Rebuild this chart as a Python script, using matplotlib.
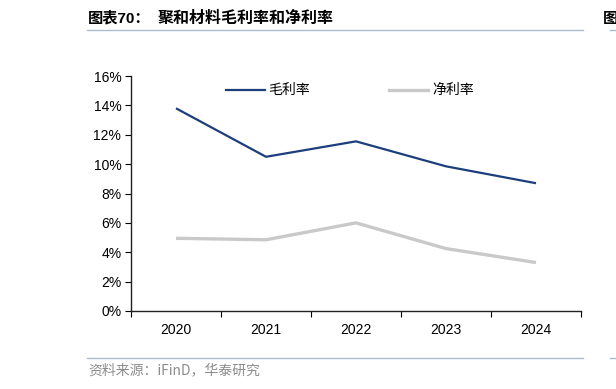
import matplotlib
matplotlib.use("Agg")
import matplotlib.pyplot as plt
from matplotlib.lines import Line2D

plt.rcParams['font.family'] = ['Liberation Sans', 'Noto Sans CJK SC', 'DejaVu Sans']

years = ["2020", "2021", "2022", "2023", "2024"]
gross_margin = [13.8, 10.5, 11.55, 9.85, 8.7]
net_margin = [4.95, 4.85, 6.0, 4.25, 3.3]
y_ticks = [0, 2, 4, 6, 8, 10, 12, 14, 16]

BLUE = "#1C3F7C"
GREY = "#C9C9C9"
RULE = "#A9BCD0"

W, H = 616, 389
fig = plt.figure(figsize=(W / 100, H / 100), dpi=100)

ax = fig.add_axes([131 / W, (H - 311) / H, (581 - 131) / W, (311 - 76) / H])
x = list(range(len(years)))
ax.plot(x, gross_margin, color=BLUE, lw=1.6, solid_capstyle="butt")
ax.plot(x, net_margin, color=GREY, lw=2.4, solid_capstyle="butt")

ax.set_xlim(-0.5, len(years) - 0.5)
ax.set_ylim(0, 16)
ax.set_yticks(y_ticks)
ax.set_yticklabels([f"{v}%" for v in y_ticks], fontsize=10)
ax.set_xticks(x)
ax.set_xticklabels(years, fontsize=10)
ax.tick_params(axis="x", which="major", length=0, pad=9)
ax.set_xticks([i - 0.5 for i in range(len(years) + 1)], minor=True)
ax.tick_params(axis="x", which="minor", length=4, direction="out", width=0.8)
ax.tick_params(axis="y", length=4, direction="out", width=0.8, pad=3)
for s in ["top", "right"]:
    ax.spines[s].set_visible(False)
for s in ["left", "bottom"]:
    ax.spines[s].set_linewidth(1.0)
    ax.spines[s].set_color("#222222")

# legend drawn in figure pixels
def fx(px):
    return px / W

def fy(py):
    return (H - py) / H

cjk = ["Noto Sans CJK SC"]
fig.add_artist(Line2D([fx(226), fx(265)], [fy(90), fy(90)], color=BLUE, lw=1.6))
fig.text(fx(268), fy(90), "毛利率", fontsize=10, va="center", ha="left", family=cjk)
fig.add_artist(Line2D([fx(389), fx(428)], [fy(90), fy(90)], color=GREY, lw=2.4))
fig.text(fx(432), fy(90), "净利率", fontsize=10, va="center", ha="left", family=cjk)

# title and rules
fig.text(fx(88), fy(18), "图表70：", fontsize=11, fontweight="bold",
         va="center", ha="left", family=["Liberation Sans", "Noto Sans CJK SC"])
fig.text(fx(158), fy(18), "聚和材料毛利率和净利率", fontsize=11.5, fontweight="bold",
         va="center", ha="left", family=cjk)
fig.add_artist(Line2D([fx(87), fx(583)], [fy(30), fy(30)], color=RULE, lw=1.0))
fig.add_artist(Line2D([fx(87), fx(583)], [fy(358), fy(358)], color=RULE, lw=1.0))
fig.text(fx(88), fy(370), "资料来源：iFinD，华泰研究", fontsize=10, color="#8C8C8C",
         va="center", ha="left", family=["Noto Sans CJK SC", "Liberation Sans"])

# neighbouring panel fragments at the right edge
fig.add_artist(Line2D([fx(610), fx(616)], [fy(30), fy(30)], color=RULE, lw=1.0))
fig.add_artist(Line2D([fx(610), fx(616)], [fy(358), fy(358)], color=RULE, lw=1.0))
fig.text(fx(603), fy(18), "图", fontsize=11, fontweight="bold", va="center", ha="left",
         family=cjk)

fig.savefig("out.png", dpi=100)
